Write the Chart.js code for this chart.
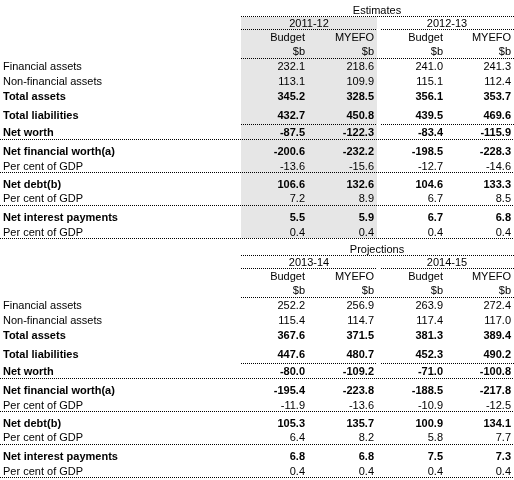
<!DOCTYPE html>
<html>
<head>
<meta charset="utf-8">
<script src="https://cdn.jsdelivr.net/npm/chart.js@4"></script>
<style>
  body { margin: 0; background: #fff; }
  #wrap { width: 514px; height: 480px; }
</style>
</head>
<body>
<div id="wrap"><canvas id="myChart"></canvas></div>
<script>
// table data
const rowLabels = ['Financial assets', 'Non-financial assets', 'Total assets', 'Total liabilities', 'Net worth',
  'Net financial worth(a)', 'Per cent of GDP', 'Net debt(b)', 'Per cent of GDP', 'Net interest payments', 'Per cent of GDP'];
const rowBold = [false, false, true, true, true, true, false, true, false, true, false];
const estYears = ['2011-12', '2012-13'];
const projYears = ['2013-14', '2014-15'];
const colHeads = ['Budget', 'MYEFO'];
const budget1112 = [232.1, 113.1, 345.2, 432.7, -87.5, -200.6, -13.6, 106.6, 7.2, 5.5, 0.4];
const myefo1112 = [218.6, 109.9, 328.5, 450.8, -122.3, -232.2, -15.6, 132.6, 8.9, 5.9, 0.4];
const budget1213 = [241.0, 115.1, 356.1, 439.5, -83.4, -198.5, -12.7, 104.6, 6.7, 6.7, 0.4];
const myefo1213 = [241.3, 112.4, 353.7, 469.6, -115.9, -228.3, -14.6, 133.3, 8.5, 6.8, 0.4];
const budget1314 = [252.2, 115.4, 367.6, 447.6, -80.0, -195.4, -11.9, 105.3, 6.4, 6.8, 0.4];
const myefo1314 = [256.9, 114.7, 371.5, 480.7, -109.2, -223.8, -13.6, 135.7, 8.2, 6.8, 0.4];
const budget1415 = [263.9, 117.4, 381.3, 452.3, -71.0, -188.5, -10.9, 100.9, 5.8, 7.5, 0.4];
const myefo1415 = [272.4, 117.0, 389.4, 490.2, -100.8, -217.8, -12.5, 134.1, 7.7, 7.3, 0.4];

// layout (in scale units = pixels)
const rowOffsets = [0, 15, 30, 49, 66, 85, 100, 118, 132, 151, 166];
const colRight = [305, 374, 443, 511];

const tablePlugin = {
    id: 'tablePlugin',
    afterDraw: (chart) => {
        const {ctx, scales} = chart;
        const X = v => scales.x.getPixelForValue(v);
        const Y = v => scales.y.getPixelForValue(v);
        const font = b => (b ? 'bold ' : '') + '11px "Liberation Sans", Arial, sans-serif';

        function hline(x1, x2, y) {
            ctx.save();
            ctx.strokeStyle = '#000';
            ctx.lineWidth = 1;
            ctx.setLineDash([1, 1]);
            ctx.beginPath();
            ctx.moveTo(X(x1), Y(y) + 0.5);
            ctx.lineTo(X(x2), Y(y) + 0.5);
            ctx.stroke();
            ctx.restore();
        }
        function text(s, x, y, align, bold) {
            ctx.font = font(bold);
            ctx.fillStyle = '#000';
            ctx.textAlign = align;
            ctx.textBaseline = 'middle';
            ctx.fillText(s, X(x), Y(y + 2));
        }

        function block(top, title, years, cols, shade) {
            if (shade) {
                ctx.fillStyle = '#e6e6e6';
                ctx.fillRect(X(241), Y(top + 8), X(377) - X(241), Y(top + 229) - Y(top + 8));
            }
            text(title, 377, top, 'center', false);
            hline(241, 514, top + 7);
            text(years[0], 309, top + 13, 'center', false);
            text(years[1], 447, top + 13, 'center', false);
            hline(241, 376, top + 20);
            hline(381, 514, top + 20);
            for (let c = 0; c < 4; c++) {
                text(colHeads[c % 2], colRight[c], top + 27, 'right', false);
                text('$b', colRight[c], top + 41, 'right', false);
            }
            hline(241, 514, top + 49);
            const first = top + 56;
            rowLabels.forEach((lab, r) => {
                const y = first + rowOffsets[r];
                text(lab, 3, y, 'left', rowBold[r]);
                cols.forEach((col, c) => {
                    text(col[r].toFixed(1), colRight[c], y, 'right', rowBold[r]);
                });
            });
            hline(241, 376, top + 115);
            hline(381, 514, top + 115);
            hline(0, 514, top + 130);
            hline(0, 514, top + 163);
            hline(0, 514, top + 196);
            hline(0, 514, top + 229);
        }

        block(9, 'Estimates', estYears, [budget1112, myefo1112, budget1213, myefo1213], true);
        block(248, 'Projections', projYears, [budget1314, myefo1314, budget1415, myefo1415], false);
    }
};

const config = {
    type: 'scatter',
    data: { datasets: [{ data: [] }] },
    options: {
        responsive: true,
        maintainAspectRatio: false,
        animation: false,
        layout: { padding: 0 },
        plugins: { legend: { display: false }, tooltip: { enabled: false } },
        scales: {
            x: { type: 'linear', min: 0, max: 514, display: false },
            y: { type: 'linear', min: 0, max: 480, reverse: true, display: false }
        }
    },
    plugins: [tablePlugin]
};

const myChart = new Chart(document.getElementById('myChart'), config);
</script>
</body>
</html>
